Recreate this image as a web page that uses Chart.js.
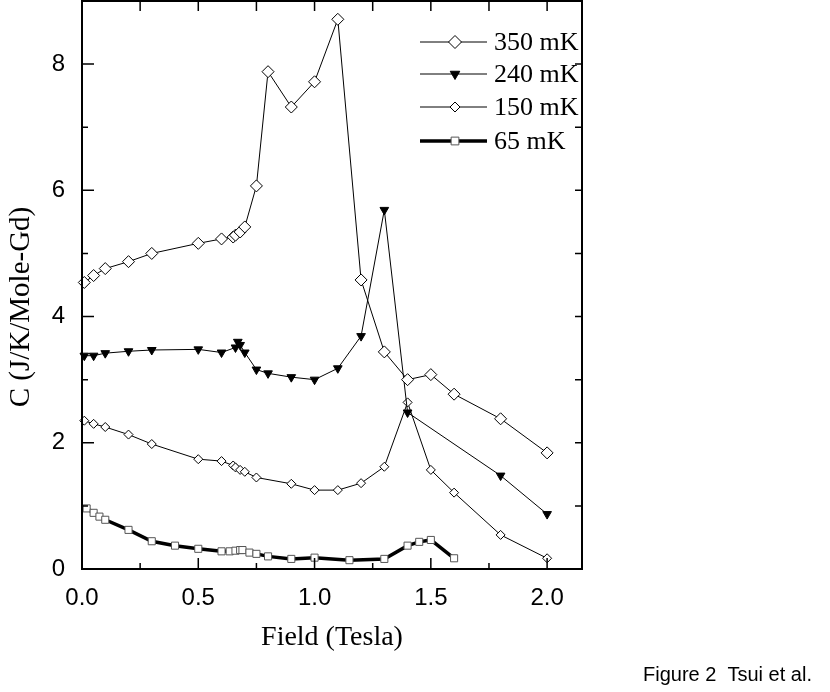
<!DOCTYPE html>
<html>
<head>
<meta charset="utf-8">
<script src="https://cdn.jsdelivr.net/npm/chart.js@4.4.1/dist/chart.umd.min.js"></script>
<style>
  body { margin: 0; background: #fff; }
  canvas { display: block; }
</style>
</head>
<body>
<canvas id="heatChart" width="830" height="692"></canvas>
<script>
// values (field in Tesla, C in J/K/Mole-Gd)
const field350 = [0.01, 0.05, 0.1, 0.2, 0.3, 0.5, 0.6, 0.65, 0.66, 0.68, 0.7, 0.75, 0.8, 0.9, 1.0, 1.1, 1.2, 1.3, 1.4, 1.5, 1.6, 1.8, 2.0];
const c350 = [4.54, 4.65, 4.76, 4.87, 5.0, 5.16, 5.23, 5.26, 5.29, 5.34, 5.42, 6.07, 7.88, 7.32, 7.72, 8.71, 4.58, 3.44, 3.0, 3.08, 2.77, 2.38, 1.84];

const field240 = [0.01, 0.05, 0.1, 0.2, 0.3, 0.5, 0.6, 0.66, 0.67, 0.68, 0.7, 0.75, 0.8, 0.9, 1.0, 1.1, 1.2, 1.3, 1.4, 1.8, 2.0];
const c240 = [3.38, 3.38, 3.42, 3.45, 3.47, 3.48, 3.43, 3.51, 3.6, 3.55, 3.43, 3.16, 3.1, 3.04, 3.0, 3.18, 3.69, 5.69, 2.48, 1.48, 0.87];

const field150 = [0.01, 0.05, 0.1, 0.2, 0.3, 0.5, 0.6, 0.65, 0.66, 0.68, 0.7, 0.75, 0.9, 1.0, 1.1, 1.2, 1.3, 1.4, 1.5, 1.6, 1.8, 2.0];
const c150 = [2.35, 2.3, 2.25, 2.13, 1.98, 1.74, 1.71, 1.64, 1.61, 1.57, 1.54, 1.45, 1.35, 1.25, 1.25, 1.36, 1.62, 2.64, 1.57, 1.21, 0.54, 0.17];

const field65 = [0.02, 0.05, 0.075, 0.1, 0.2, 0.3, 0.4, 0.5, 0.6, 0.635, 0.66, 0.68, 0.69, 0.72, 0.75, 0.8, 0.9, 1.0, 1.15, 1.3, 1.4, 1.45, 1.5, 1.6];
const c65 = [0.96, 0.89, 0.83, 0.78, 0.62, 0.44, 0.37, 0.32, 0.28, 0.28, 0.29, 0.3, 0.3, 0.26, 0.24, 0.2, 0.16, 0.18, 0.14, 0.16, 0.37, 0.43, 0.46, 0.17];

const seriesNames = ['350 mK', '240 mK', '150 mK', '65 mK'];
const xTickValues = [0, 0.25, 0.5, 0.75, 1.0, 1.25, 1.5, 1.75, 2.0];
const yTickValues = [0, 1, 2, 3, 4, 5, 6, 7, 8, 9];

function toPoints(xs, ys) {
    return xs.map((x, i) => ({ x: x, y: ys[i] }));
}

const datasets = [
    {
        label: seriesNames[0], data: toPoints(field350, c350),
        borderColor: '#000', borderWidth: 1,
        pointStyle: 'rectRot', pointRadius: 6, pointBorderWidth: 1,
        pointBackgroundColor: '#fff', pointBorderColor: '#000'
    },
    {
        label: seriesNames[1], data: toPoints(field240, c240),
        borderColor: '#000', borderWidth: 1,
        pointStyle: 'triangle', pointRotation: 180, pointRadius: 5, pointBorderWidth: 1,
        pointBackgroundColor: '#000', pointBorderColor: '#000'
    },
    {
        label: seriesNames[2], data: toPoints(field150, c150),
        borderColor: '#000', borderWidth: 1,
        pointStyle: 'rectRot', pointRadius: 4.5, pointBorderWidth: 1,
        pointBackgroundColor: '#fff', pointBorderColor: '#000'
    },
    {
        label: seriesNames[3], data: toPoints(field65, c65),
        borderColor: '#000', borderWidth: 3.5,
        pointStyle: 'rect', pointRadius: 5, pointBorderWidth: 1,
        pointBackgroundColor: '#fff', pointBorderColor: '#555'
    }
];

// box frame, inward ticks, legend and the extra labels
const decorations = {
    id: 'decorations',
    afterDatasetsDraw(chart) {
        const { ctx, chartArea: a, scales: { x, y } } = chart;
        ctx.save();
        ctx.strokeStyle = '#000';
        ctx.lineWidth = 2;
        ctx.strokeRect(a.left, a.top, a.right - a.left, a.bottom - a.top);

        ctx.lineWidth = 1.5;
        ctx.beginPath();
        xTickValues.forEach(v => {
            const px = x.getPixelForValue(v);
            const major = Math.abs(v * 2 - Math.round(v * 2)) < 1e-6;
            ctx.moveTo(px, a.bottom);
            ctx.lineTo(px, a.bottom - (major ? 11 : 6));
            ctx.moveTo(px, a.top);
            ctx.lineTo(px, a.top + 10);
        });
        yTickValues.forEach(v => {
            const py = y.getPixelForValue(v);
            ctx.moveTo(a.left, py);
            ctx.lineTo(a.left + (v % 2 === 0 ? 12 : 6), py);
            ctx.moveTo(a.right, py);
            ctx.lineTo(a.right - 7, py);
        });
        ctx.stroke();

        // legend: line, marker, name
        const rows = [42, 74, 107, 141];
        chart.data.datasets.forEach((ds, i) => {
            const ly = rows[i];
            ctx.strokeStyle = '#000';
            ctx.lineWidth = ds.borderWidth;
            ctx.beginPath();
            ctx.moveTo(420, ly);
            ctx.lineTo(487, ly);
            ctx.stroke();
            ctx.fillStyle = ds.pointBackgroundColor;
            ctx.strokeStyle = ds.pointBorderColor;
            ctx.lineWidth = ds.pointBorderWidth;
            Chart.helpers.drawPoint(ctx, {
                pointStyle: ds.pointStyle,
                rotation: ds.pointRotation || 0,
                radius: ds.pointRadius + 0.5,
                borderWidth: ds.pointBorderWidth
            }, 455, ly);
            ctx.fillStyle = '#000';
            ctx.font = '26px "Liberation Serif"';
            ctx.textAlign = 'left';
            ctx.textBaseline = 'middle';
            ctx.fillText(ds.label, 494, ly + 1);
        });

        ctx.fillStyle = '#000';
        ctx.font = '28px "Liberation Serif"';
        ctx.textAlign = 'center';
        ctx.textBaseline = 'alphabetic';
        ctx.fillText('Field (Tesla)', (a.left + a.right) / 2, 645);

        ctx.save();
        ctx.translate(21, 307);
        ctx.rotate(-Math.PI / 2);
        ctx.textBaseline = 'middle';
        ctx.font = '29px "Liberation Serif"';
        ctx.fillText('C (J/K/Mole-Gd)', 0, 0);
        ctx.restore();

        ctx.font = '20px "Liberation Sans"';
        ctx.textAlign = 'left';
        ctx.fillText('Figure 2  Tsui et al.', 643, 681);
        ctx.restore();
    }
};

const chart = new Chart(document.getElementById('heatChart').getContext('2d'), {
    type: 'scatter',
    data: { datasets: datasets.map(d => Object.assign({ showLine: true, tension: 0, clip: false }, d)) },
    options: {
        responsive: false,
        animation: false,
        layout: { autoPadding: false, padding: { left: 0, top: 1, right: 248, bottom: 0 } },
        plugins: {
            legend: { display: false },
            tooltip: { enabled: false }
        },
        scales: {
            x: {
                type: 'linear',
                min: 0,
                max: 2.15,
                grid: { display: false },
                border: { display: false },
                ticks: {
                    stepSize: 0.5,
                    includeBounds: false,
                    padding: 7,
                    color: '#000',
                    font: { family: 'Liberation Sans', size: 24 },
                    callback: v => v.toFixed(1)
                },
                afterFit: scale => {
                    scale.height = 123;
                    scale.paddingLeft = 0;
                    scale.paddingRight = 0;
                }
            },
            y: {
                min: 0,
                max: 9,
                grid: { display: false },
                border: { display: false },
                ticks: {
                    stepSize: 2,
                    includeBounds: false,
                    padding: 9,
                    color: '#000',
                    font: { family: 'Liberation Sans', size: 24 }
                },
                afterFit: scale => {
                    scale.width = 82;
                    scale.paddingTop = 0;
                    scale.paddingBottom = 0;
                }
            }
        }
    },
    plugins: [decorations]
});
</script>
</body>
</html>
